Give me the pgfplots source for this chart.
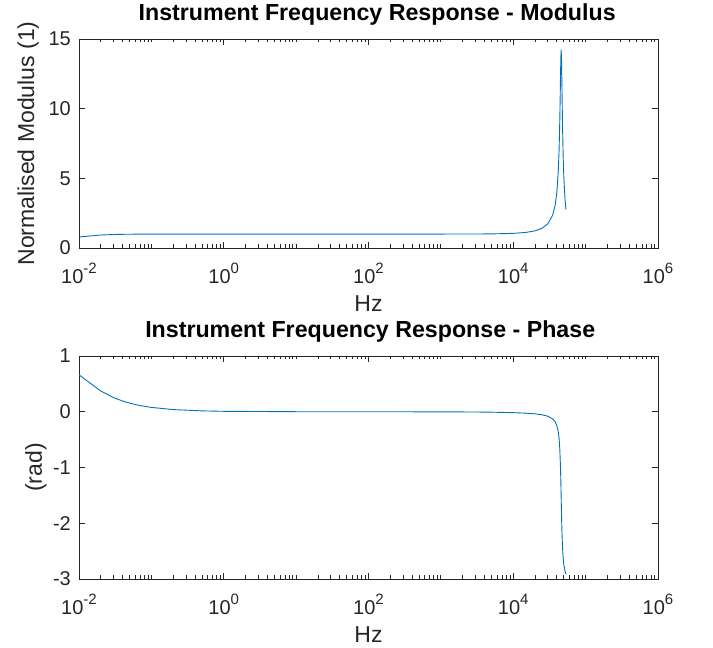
\documentclass[border=0pt]{standalone}
\usepackage{pgfplots}
\pgfplotsset{compat=1.18}
\usepackage{fontspec}
\setmainfont{Liberation Sans}
\definecolor{mlblue}{HTML}{0072BD}
\definecolor{mlgray}{HTML}{262626}
\newcommand{\expo}[1]{\raisebox{10pt}{\fontsize{15pt}{15pt}\selectfont #1}}

\pgfplotsset{
  every axis/.append style={
    scale only axis,
    width=579pt,
    xmin=1e-2, xmax=1e6,
    xtick={1e-2,1,1e2,1e4,1e6},
    xticklabels={10\expo{-2},10\expo{0},10\expo{2},10\expo{4},10\expo{6}},
    minor xtick={2e-2,3e-2,4e-2,5e-2,6e-2,7e-2,8e-2,9e-2,
      1e-1,2e-1,3e-1,4e-1,5e-1,6e-1,7e-1,8e-1,9e-1,
      2,3,4,5,6,7,8,9,10,20,30,40,50,60,70,80,90,
      200,300,400,500,600,700,800,900,1000,2000,3000,4000,5000,6000,7000,8000,9000,
      2e4,3e4,4e4,5e4,6e4,7e4,8e4,9e4,1e5,2e5,3e5,4e5,5e5,6e5,7e5,8e5,9e5},
    tick align=inside,
    major tick length=6pt,
    minor tick length=3.5pt,
    axis line style={mlgray, line width=0.8pt},
    every tick/.style={mlgray, line width=0.8pt},
    tick label style={font=\fontsize{20pt}{24pt}\selectfont, text=mlgray},
    xticklabel style={anchor=base, yshift=-36pt, inner sep=0pt},
    yticklabel style={anchor=east, inner sep=0pt, xshift=-8pt},
    xlabel style={at={(axis description cs:0.5,0)}, anchor=base, yshift=-64pt,
      font=\fontsize{23pt}{27pt}\selectfont, text=mlgray},
    title style={anchor=base, yshift=12pt,
      font=\bfseries\fontsize{23.2pt}{27pt}\selectfont},
  },
}

\begin{document}
\begin{tikzpicture}
\useasboundingbox (0,0) rectangle (713pt,648pt);

% modulus
\begin{semilogxaxis}[
  at={(79pt,400pt)}, anchor=south west,
  height=209pt,
  ymin=0, ymax=15,
  ytick={0,5,10,15},
  yticklabels={0,5,10,15},
  xlabel={Hz},
  ylabel={Normalised Modulus (1)},
  ylabel style={at={(axis description cs:-0.0777,0.5)}, anchor=base,
    font=\fontsize{23pt}{27pt}\selectfont, text=mlgray},
  title={Instrument Frequency Response - Modulus},
  title style={at={(axis description cs:0.515,1)}},
]
\addplot[mlblue, line width=0.9pt, line join=round] coordinates {
  (0.01,0.7885) (0.02,0.9317) (0.03,0.9678) (0.04,0.9815) (0.05,0.9881)
  (0.06,0.9917) (0.07,0.9938) (0.1,0.9970) (0.2,0.9992) (0.5,0.9999)
  (1,1.0000) (10,1.0000) (100,1.0000) (1000,1.0005) (3000,1.0043)
  (5000,1.0119) (10000,1.0495) (15000,1.1186) (20000,1.2322) (25000,1.4171)
  (30000,1.7347) (35000,2.3559) (38000,3.0972) (40000,3.977) (42000,5.606)
  (43000,7.028) (44000,9.214) (45000,12.32) (45500,13.71) (46000,14.20)
  (46500,13.43) (47000,11.86) (48000,8.674) (49000,6.487) (50000,5.077)
  (52000,3.460) (53500,2.762)
};
\end{semilogxaxis}

% phase
\begin{semilogxaxis}[
  at={(79pt,69pt)}, anchor=south west,
  height=223pt,
  ymin=-3, ymax=1,
  ytick={-3,-2,-1,0,1},
  yticklabels={-3,-2,-1,0,1},
  xlabel={Hz},
  ylabel={(rad)},
  ylabel style={at={(axis description cs:-0.0639,0.5)}, anchor=base,
    font=\fontsize{23pt}{27pt}\selectfont, text=mlgray},
  title={Instrument Frequency Response - Phase},
  title style={at={(axis description cs:0.503,1)}},
]
\addplot[mlblue, line width=0.9pt, line join=round] coordinates {
  (0.01,0.6623) (0.02,0.3718) (0.03,0.2544) (0.04,0.1926) (0.05,0.1548)
  (0.06,0.1293) (0.07,0.1110) (0.1,0.0778) (0.2,0.0390) (0.5,0.0156)
  (1,0.0078) (10,0.0008) (100,0.0) (1000,-0.0015) (3000,-0.0046)
  (5000,-0.0077) (10000,-0.0161) (15000,-0.0257) (20000,-0.0377) (25000,-0.0542)
  (30000,-0.0797) (35000,-0.1265) (38000,-0.1811) (40000,-0.2460) (42000,-0.3690)
  (43000,-0.4806) (44000,-0.6695) (45000,-1.0132) (45500,-1.2696) (46000,-1.5708)
  (46500,-1.8683) (47000,-2.1191) (48000,-2.4504) (49000,-2.6333) (50000,-2.7427)
  (52000,-2.8628) (53500,-2.9135)
};
\end{semilogxaxis}
\end{tikzpicture}
\end{document}
